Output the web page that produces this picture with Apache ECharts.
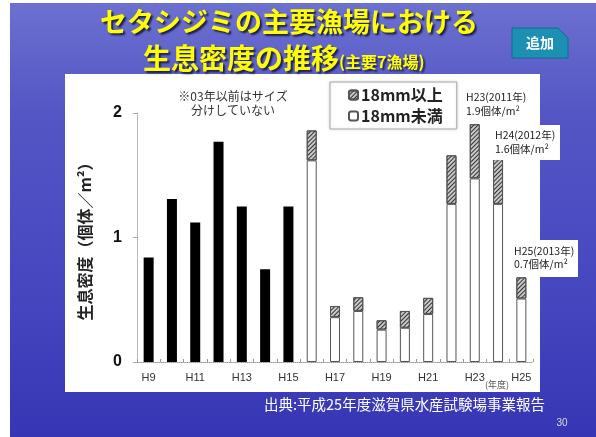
<!DOCTYPE html>
<html>
<head>
<meta charset="utf-8">
<script src="https://cdn.jsdelivr.net/npm/echarts@6/dist/echarts.min.js"></script>
<style>
  html, body { margin: 0; padding: 0; background: #fff; }
  #chart { width: 596px; height: 437px; }
</style>
</head>
<body>
<div id="chart"></div>
<script>
// 年度 H9〜H25
const years = ['H9', 'H10', 'H11', 'H12', 'H13', 'H14', 'H15', 'H16', 'H17',
  'H18', 'H19', 'H20', 'H21', 'H22', 'H23', 'H24', 'H25']
// H15以前はサイズ分けなし（黒棒）
const noSplit = [0.84, 1.31, 1.12, 1.77, 1.25, 0.745, 1.25,
  null, null, null, null, null, null, null, null, null, null]
// 18mm未満
const under18 = [null, null, null, null, null, null, null,
  1.62, 0.36, 0.41, 0.26, 0.275, 0.385, 1.27, 1.475, 1.27, 0.51]
// 18mm以上
const over18 = [null, null, null, null, null, null, null,
  0.24, 0.09, 0.11, 0.075, 0.135, 0.13, 0.39, 0.435, 0.36, 0.17]
const yTicks = [0, 1, 2]

const jp = '"Noto Sans CJK JP", "Noto Sans", sans-serif'
const latin = '"Liberation Sans", Arial, sans-serif'

const chart = echarts.init(document.getElementById('chart'))

// 斜線ハッチ
const hatch = {
  symbol: 'rect',
  symbolSize: 1,
  dashArrayX: [1, 0],
  dashArrayY: [1, 1.2],
  rotation: -Math.PI / 4,
  color: '#333'
}

const option = {
  backgroundColor: '#fff',
  animation: false,
  graphic: [
    // slide background
    {
      type: 'rect', z: -20,
      shape: { x: 10, y: 3, width: 586, height: 434 },
      style: {
        fill: {
          type: 'linear', x: 0, y: 0, x2: 0, y2: 1,
          colorStops: [
            { offset: 0, color: '#6c70cf' },
            { offset: 0.25, color: '#5456c5' },
            { offset: 0.7, color: '#4545bf' },
            { offset: 1, color: '#3636b4' }
          ]
        }
      }
    },
    // white chart panel
    {
      type: 'rect', z: -10,
      shape: { x: 65, y: 74, width: 475, height: 318 },
      style: { fill: '#fff' }
    },
    // title
    {
      type: 'text', z: 50, left: 100, top: 8,
      style: {
        text: 'セタシジミの主要漁場における',
        font: 'bold 27px ' + jp,
        fill: '#ffff00',
        textShadowColor: 'rgba(20,20,60,0.9)',
        textShadowBlur: 2,
        textShadowOffsetX: 2,
        textShadowOffsetY: 2
      }
    },
    {
      type: 'text', z: 50, left: 143, top: 44,
      style: {
        text: '{a|生息密度の推移}{b|(主要7漁場)}',
        fill: '#ffff00',
        textShadowColor: 'rgba(20,20,60,0.9)',
        textShadowBlur: 2,
        textShadowOffsetX: 2,
        textShadowOffsetY: 2,
        rich: {
          a: { font: 'bold 28px ' + jp, fill: '#ffff00' },
          b: { font: 'bold 16px ' + jp, fill: '#ffff00', padding: [8, 0, 0, 0] }
        }
      }
    },
    // 追加 button
    {
      type: 'polygon', z: 50,
      shape: { points: [[512, 28], [558, 28], [568, 38], [568, 58], [512, 58]] },
      style: { fill: '#1c8fb3', stroke: '#0e6e8e', lineWidth: 1 }
    },
    {
      type: 'text', z: 51, x: 540, y: 43,
      style: {
        text: '追加', font: 'bold 14px ' + jp, fill: '#fff',
        align: 'center', verticalAlign: 'middle'
      }
    },
    // note
    {
      type: 'text', z: 50, x: 233, y: 89,
      style: {
        text: '※03年以前はサイズ\n分けしていない',
        font: '12px ' + jp, fill: '#333', align: 'center', lineHeight: 14
      }
    },
    // annotations
    {
      type: 'text', z: 50, x: 466, y: 90,
      style: {
        text: 'H23(2011年)\n1.9個体/m²', font: '10.5px ' + jp, fill: '#222', lineHeight: 14
      }
    },
    {
      type: 'rect', z: 49,
      shape: { x: 490, y: 125, width: 70, height: 35 },
      style: { fill: '#fff' }
    },
    {
      type: 'text', z: 50, x: 495, y: 128,
      style: {
        text: 'H24(2012年)\n1.6個体/m²', font: '10.5px ' + jp, fill: '#222', lineHeight: 14
      }
    },
    {
      type: 'rect', z: 49,
      shape: { x: 511, y: 240, width: 67, height: 37 },
      style: { fill: '#fff' }
    },
    {
      type: 'text', z: 50, x: 514, y: 245,
      style: {
        text: 'H25(2013年)\n0.7個体/m²', font: '10.5px ' + jp, fill: '#222', lineHeight: 13
      }
    },
    {
      type: 'text', z: 50, x: 497, y: 385,
      style: {
        text: '(年度)', font: '9px ' + jp, fill: '#555', align: 'center', verticalAlign: 'middle'
      }
    },
    // footer
    {
      type: 'text', z: 50, x: 264, y: 404,
      style: {
        text: '出典:平成25年度滋賀県水産試験場事業報告',
        font: '14.5px ' + jp, fill: '#fff', verticalAlign: 'middle'
      }
    },
    {
      type: 'text', z: 50, x: 562, y: 423,
      style: {
        text: '30', font: '10px ' + latin, fill: '#ddd', align: 'center', verticalAlign: 'middle'
      }
    }
  ],
  legend: {
    data: ['18mm以上', '18mm未満'],
    orient: 'vertical',
    left: 330,
    top: 82,
    itemWidth: 9,
    itemHeight: 9,
    itemGap: 5,
    padding: [5, 14, 5, 18],
    borderColor: '#aaa',
    borderWidth: 1,
    backgroundColor: '#fff',
    shadowColor: 'rgba(0,0,0,0.15)',
    shadowBlur: 3,
    textStyle: { fontFamily: jp, fontWeight: 'bold', fontSize: 16, color: '#222', padding: [0, 0, 0, -2] }
  },
  grid: { left: 137, right: 63, top: 113, bottom: 75 },
  xAxis: {
    type: 'category',
    data: years,
    axisLine: { lineStyle: { color: '#999', type: 'dotted', width: 1 } },
    axisTick: { show: true, inside: true, length: 3, interval: 0, lineStyle: { color: '#999' } },
    axisLabel: { interval: 1, fontFamily: latin, fontSize: 11, color: '#333', margin: 10 }
  },
  yAxis: {
    type: 'value',
    min: 0,
    max: yTicks[yTicks.length - 1],
    interval: 1,
    name: '生息密度（個体／m²）',
    nameLocation: 'middle',
    nameRotate: 90,
    nameGap: 44,
    nameTextStyle: { fontFamily: jp, fontWeight: 'bold', fontSize: 16, color: '#222' },
    axisLine: { show: true, lineStyle: { color: '#aaa', type: 'dotted' } },
    axisTick: { show: true, length: 4, lineStyle: { color: '#aaa' } },
    splitLine: { show: false },
    axisLabel: { fontFamily: latin, fontWeight: 'bold', fontSize: 16, color: '#111', margin: 15 }
  },
  series: [
    {
      name: 'サイズ区分なし',
      type: 'bar',
      stack: 'd',
      barWidth: 10,
      data: noSplit,
      itemStyle: { color: '#000' }
    },
    {
      name: '18mm未満',
      type: 'bar',
      stack: 'd',
      barWidth: 10,
      data: under18,
      itemStyle: { color: '#fff', borderColor: '#555', borderWidth: 1 }
    },
    {
      name: '18mm以上',
      type: 'bar',
      stack: 'd',
      barWidth: 10,
      data: over18,
      itemStyle: { color: '#c8c8c8', borderColor: '#555', borderWidth: 1, decal: hatch }
    }
  ]
}

chart.setOption(option)
</script>
</body>
</html>
